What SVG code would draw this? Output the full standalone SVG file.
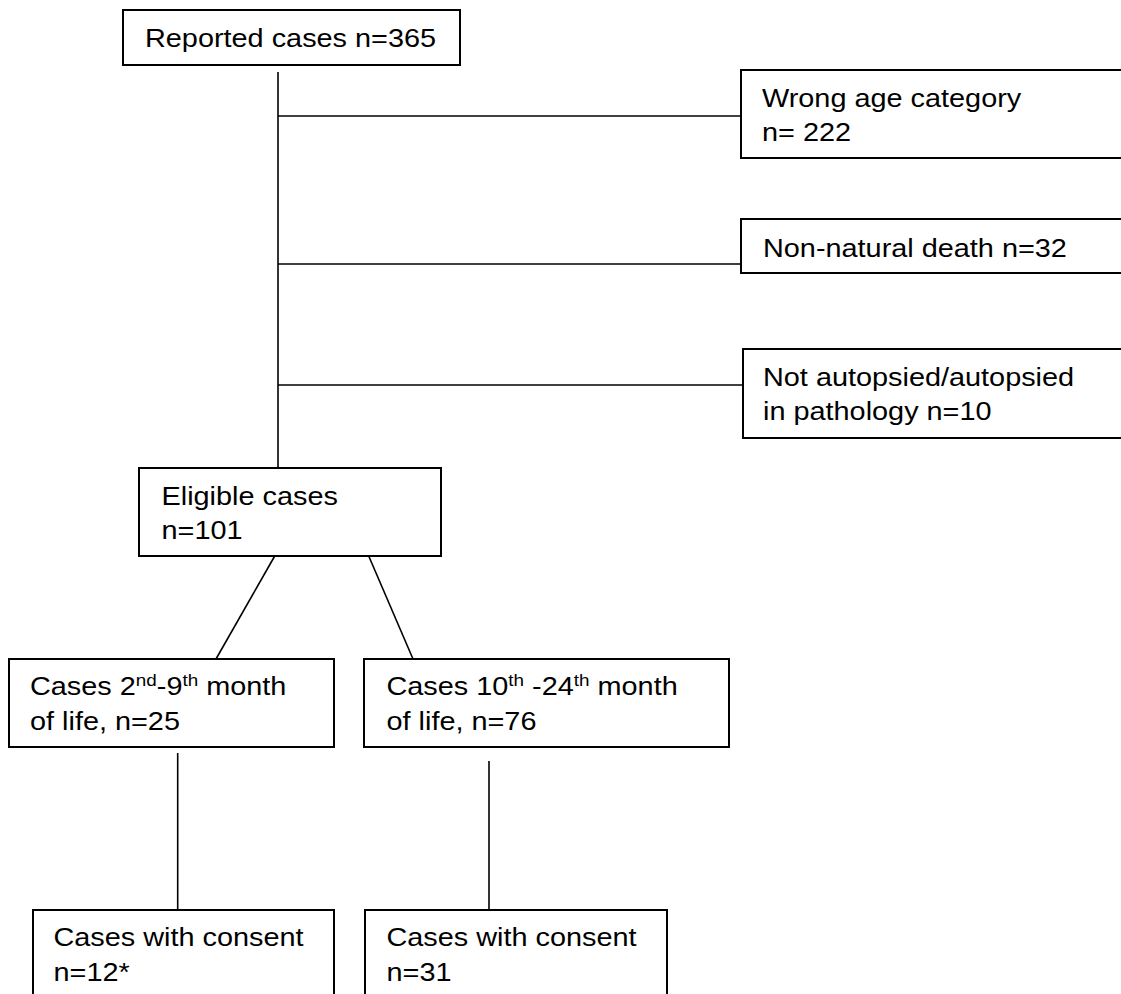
<svg xmlns="http://www.w3.org/2000/svg" width="1121" height="994" viewBox="0 0 1121 994">
<style>
.box{fill:#fff;stroke:#000;stroke-width:2}
.ln{stroke:#000;stroke-width:1.6;fill:none}
.t{font-family:"Liberation Sans",Arial,sans-serif;font-size:26px;fill:#000}
.sup{font-size:17px}
</style>
<rect width="1121" height="994" fill="#fff"/>
<g id="connectors">
<line class="ln" x1="278" y1="72" x2="278" y2="468"/>
<line class="ln" x1="278" y1="116" x2="741" y2="116"/>
<line class="ln" x1="278" y1="264" x2="741" y2="264"/>
<line class="ln" x1="278" y1="385" x2="743" y2="385"/>
<line class="ln" x1="277" y1="552" x2="216" y2="659"/>
<line class="ln" x1="367" y1="552" x2="413" y2="659"/>
<line class="ln" x1="177.7" y1="753" x2="177.7" y2="910"/>
<line class="ln" x1="489" y1="761" x2="489" y2="910"/>
</g>
<g id="reported">
<rect class="box" x="123" y="10" width="337" height="55"/>
<text class="t" transform="translate(145,46.5) scale(1.11,1)">Reported cases n=365</text>
</g>
<g id="wrong-age">
<rect class="box" x="741" y="70" width="400" height="88"/>
<text class="t" transform="translate(762,106.5) scale(1.11,1)">Wrong age category<tspan x="0" dy="35">n= 222</tspan></text>
</g>
<g id="non-natural">
<rect class="box" x="741" y="219" width="400" height="54"/>
<text class="t" transform="translate(763,256.5) scale(1.11,1)">Non-natural death n=32</text>
</g>
<g id="not-autopsied">
<rect class="box" x="743" y="349" width="400" height="89"/>
<text class="t" transform="translate(763,385.5) scale(1.11,1)">Not autopsied/autopsied<tspan x="0" dy="35">in pathology n=10</tspan></text>
</g>
<g id="eligible">
<rect class="box" x="139" y="468" width="302" height="88"/>
<text class="t" transform="translate(161.5,504.5) scale(1.11,1)">Eligible cases<tspan x="0" dy="35">n=101</tspan></text>
</g>
<g id="cases-2-9">
<rect class="box" x="9" y="659" width="325" height="88"/>
<text class="t" transform="translate(30,695) scale(1.11,1)">Cases 2<tspan class="sup" dy="-9">nd</tspan><tspan dy="9">-9</tspan><tspan class="sup" dy="-9">th</tspan><tspan dy="9"> month</tspan><tspan x="0" dy="35">of life, n=25</tspan></text>
</g>
<g id="cases-10-24">
<rect class="box" x="364" y="659" width="365" height="88"/>
<text class="t" transform="translate(386.5,695) scale(1.11,1)">Cases 10<tspan class="sup" dy="-9">th</tspan><tspan dy="9"> -24</tspan><tspan class="sup" dy="-9">th</tspan><tspan dy="9"> month</tspan><tspan x="0" dy="35">of life, n=76</tspan></text>
</g>
<g id="consent-1">
<rect class="box" x="33" y="910" width="301" height="100"/>
<text class="t" transform="translate(53.5,946) scale(1.11,1)">Cases with consent<tspan x="0" dy="35">n=12*</tspan></text>
</g>
<g id="consent-2">
<rect class="box" x="365" y="910" width="302" height="100"/>
<text class="t" transform="translate(386.5,946) scale(1.11,1)">Cases with consent<tspan x="0" dy="35">n=31</tspan></text>
</g>
</svg>
